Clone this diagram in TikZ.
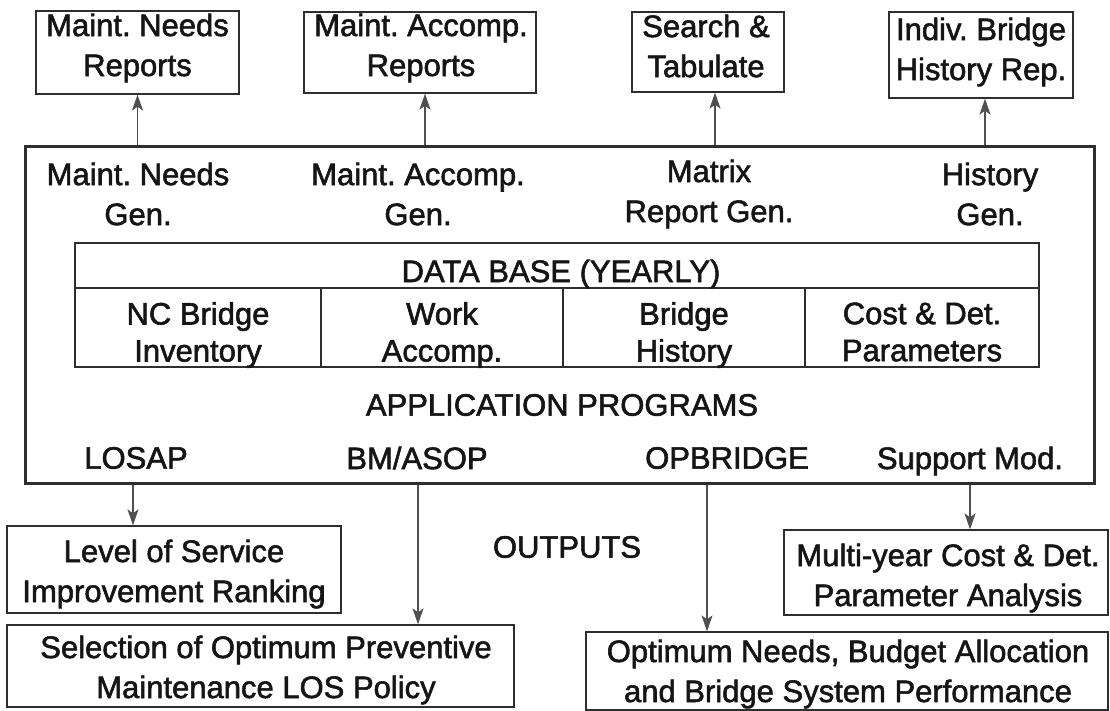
\documentclass[tikz,border=0pt]{standalone}
\usepackage{fontspec}
\setmainfont{Liberation Sans}
\newfontfamily\inkfont{Liberation Sans}[FakeBold=1.8]
\usetikzlibrary{arrows.meta}
\frenchspacing
\definecolor{ink}{HTML}{151515}
\definecolor{linegray}{HTML}{2E2E2E}
\definecolor{arrowgray}{HTML}{4F4F4F}
\tikzset{
  lbl/.style={align=center, inner sep=0pt, text=ink, font=\inkfont\frenchspacing\fontsize{31}{40}\selectfont},
  celltxt/.style={lbl, font=\inkfont\frenchspacing\fontsize{31}{37}\selectfont},
  outbox/.style={draw=linegray, line width=1.3pt, inner sep=0pt},
  mainbox/.style={draw=linegray, line width=3pt, inner sep=0pt},
  dbline/.style={draw=linegray, line width=2.4pt},
  arr/.style={draw=arrowgray, line width=1.3pt, -{Stealth[length=16pt,width=11pt,inset=4pt]}}
}
\begin{document}
\begin{tikzpicture}[x=1pt,y=-1pt]
\useasboundingbox (0,0) rectangle (1110,711);
\fill[white] (0,0) rectangle (1110,711);

% top report boxes
\node[outbox, minimum width=203pt, minimum height=83pt] (b1) at (137.5,52.5) {};
\node[outbox, minimum width=232pt, minimum height=81pt] (b2) at (420,52.5) {};
\node[outbox, minimum width=152pt, minimum height=80pt] (b3) at (708,52) {};
\node[outbox, minimum width=184pt, minimum height=86pt] (b4) at (981,55) {};
\node[lbl] (t1) at (137.5,48) {Maint. Needs\\Reports};
\node[lbl] (t2) at (421,48) {Maint. Accomp.\\Reports};
\node[lbl] (t3) at (706,46) {Search \&\\Tabulate};
\node[lbl] (t4) at (981,52) {Indiv. Bridge\\History Rep.};

% main system box
\node[mainbox, minimum width=1069pt, minimum height=336pt] (main) at (559.5,315) {};
\node[lbl] (g1) at (138,194) {Maint. Needs\\Gen.};
\node[lbl] (g2) at (418,194) {Maint. Accomp.\\Gen.};
\node[lbl] (g3) at (709,194) {Matrix\\Report Gen.};
\node[lbl] (g4) at (990,194) {History\\Gen.};

% data base table
\node[dbline, minimum width=964pt, minimum height=124pt, inner sep=0pt] (db) at (557,305) {};
\coordinate (rowl) at (75,288);
\coordinate (rowr) at (1039,288);
\draw[dbline] (rowl) -- (rowr);
\coordinate (d1) at (321,288);
\coordinate (d2) at (563,288);
\coordinate (d3) at (805,288);
\draw[dbline] (d1) -- (d1 |- db.south);
\draw[dbline] (d2) -- (d2 |- db.south);
\draw[dbline] (d3) -- (d3 |- db.south);
\node[lbl] (dbh) at (561,274) {DATA BASE (YEARLY)};
\node[celltxt] (c1) at (198,335) {NC Bridge\\Inventory};
\node[celltxt] (c2) at (442,335) {Work\\Accomp.};
\node[celltxt] (c3) at (684,335) {Bridge\\History};
\node[celltxt] (c4) at (922,332) {Cost \& Det.\\Parameters};

\node[lbl] (app) at (562,405) {APPLICATION PROGRAMS};
\node[lbl] (p1) at (136,458) {LOSAP};
\node[lbl] (p2) at (417,458) {BM/ASOP};
\node[lbl] (p3) at (727,458) {OPBRIDGE};
\node[lbl] (p4) at (970,461) {Support Mod.};

\node[lbl] (outs) at (567,547) {OUTPUTS};

% output boxes
\node[outbox, minimum width=334pt, minimum height=87pt] (o1) at (174,569.5) {};
\node[outbox, minimum width=507pt, minimum height=82pt] (o2) at (260.5,666) {};
\node[outbox, minimum width=324pt, minimum height=85pt] (o3) at (946,572.5) {};
\node[outbox, minimum width=522pt, minimum height=78pt] (o4) at (847,671) {};
\node[lbl] (ot1) at (174,574) {Level of Service\\Improvement Ranking};
\node[lbl] (ot2) at (266,670) {Selection of Optimum Preventive\\Maintenance LOS Policy};
\node[lbl] (ot3) at (948,578) {Multi-year Cost \& Det.\\Parameter Analysis};
\node[lbl] (ot4) at (848,674) {Optimum Needs, Budget Allocation\\and Bridge System Performance};

% connectors up
\coordinate (u1) at (137.5,0);
\coordinate (u2) at (425,0);
\coordinate (u3) at (715,0);
\coordinate (u4) at (985,0);
\draw[arr] (main.north -| u1) -- (b1.south -| u1);
\draw[arr] (main.north -| u2) -- (b2.south -| u2);
\draw[arr] (main.north -| u3) -- (b3.south -| u3);
\draw[arr] (main.north -| u4) -- (b4.south -| u4);

% connectors down
\coordinate (v1) at (133,0);
\coordinate (v2) at (418,0);
\coordinate (v3) at (707,0);
\coordinate (v4) at (970,0);
\draw[arr] (main.south -| v1) -- (o1.north -| v1);
\draw[arr] (main.south -| v2) -- (o2.north -| v2);
\draw[arr] (main.south -| v3) -- (o4.north -| v3);
\draw[arr] (main.south -| v4) -- (o3.north -| v4);
\end{tikzpicture}
\end{document}
